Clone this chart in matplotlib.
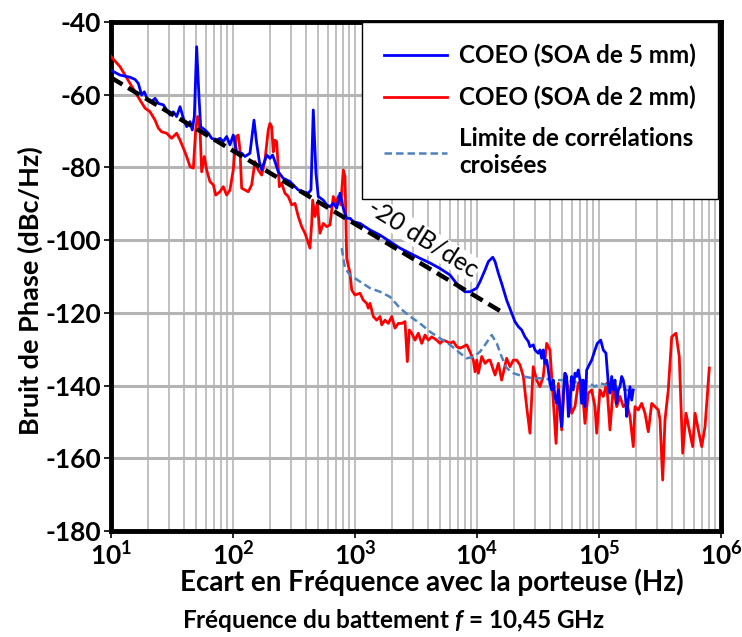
import matplotlib
matplotlib.use("Agg")
import matplotlib.pyplot as plt
import numpy as np

plt.rcParams['font.family'] = ['Lato', 'DejaVu Sans']
plt.rcParams['font.weight'] = 'bold'
plt.rcParams['mathtext.fontset'] = 'custom'
plt.rcParams['mathtext.rm'] = 'Lato:bold'
plt.rcParams['mathtext.it'] = 'Lato:bold:italic'
plt.rcParams['mathtext.bf'] = 'Lato:bold'

# log10 of the offset frequency (Hz) and phase noise (dBc/Hz)
soa5_logf = [1.00, 1.074, 1.115, 1.156, 1.197, 1.224, 1.251, 1.273, 1.301, 1.333, 1.361, 1.388,
             1.429, 1.456, 1.484, 1.511, 1.538, 1.566, 1.593, 1.620, 1.648, 1.666, 1.683, 1.702,
             1.721, 1.735, 1.770, 1.798, 1.825, 1.866, 1.893, 1.920, 1.948, 1.975, 2.002, 2.030,
             2.071, 2.098, 2.139, 2.172, 2.194, 2.216, 2.235, 2.249, 2.276, 2.303, 2.325, 2.344,
             2.371, 2.412, 2.467, 2.508, 2.535, 2.576, 2.617, 2.639, 2.658, 2.680, 2.699, 2.740,
             2.768, 2.795, 2.822, 2.850, 2.877, 2.904, 2.932, 2.959, 2.986, 3.041, 3.123, 3.205,
             3.287, 3.369, 3.451, 3.533, 3.615, 3.697, 3.779, 3.861, 3.902, 3.943, 3.998, 4.025,
             4.066, 4.093, 4.129, 4.148, 4.175, 4.202, 4.243, 4.284, 4.311, 4.339, 4.366, 4.393,
             4.421, 4.434, 4.461, 4.475, 4.502, 4.516, 4.530, 4.543, 4.557, 4.571, 4.584, 4.598,
             4.612, 4.625, 4.639, 4.653, 4.667, 4.680, 4.694, 4.708, 4.721, 4.735, 4.749, 4.762,
             4.776, 4.789, 4.803, 4.817, 4.830, 4.844, 4.858, 4.871, 4.885, 4.899, 4.912, 4.926,
             4.940, 4.967, 4.986, 5.014, 5.035, 5.057, 5.076, 5.090, 5.104, 5.117, 5.131, 5.145,
             5.158, 5.172, 5.186, 5.199, 5.213, 5.227, 5.240, 5.254, 5.268, 5.281]
soa5_db = [-53.3, -54.6, -54.9, -55.2, -55.8, -56.9, -60.1, -59.2, -61.5, -61.9, -61.0, -62.4,
           -62.8, -64.2, -65.6, -64.7, -66.0, -63.3, -66.5, -68.8, -67.4, -69.7, -66.0, -46.8,
           -60.5, -68.8, -69.7, -70.6, -72.0, -72.5, -72.0, -72.9, -71.5, -73.8, -71.1, -75.7,
           -76.1, -77.0, -76.1, -67.0, -73.4, -78.4, -80.7, -79.3, -76.6, -77.5, -76.6, -78.4,
           -81.2, -83.0, -83.9, -85.3, -86.2, -86.7, -87.1, -86.2, -64.2, -81.6, -88.0, -89.0,
           -90.3, -90.8, -89.9, -91.2, -87.1, -91.2, -94.0, -94.0, -94.9, -95.4, -97.2, -98.6,
           -100.4, -102.2, -103.6, -105.0, -106.3, -107.8, -109.6, -113.2, -114.2, -114.2, -113.2, -111.4,
           -108.2, -105.9, -104.7, -105.9, -109.1, -111.9, -116.5, -120.1, -122.4, -123.8, -124.7, -126.6,
           -127.9, -129.3, -128.8, -130.2, -131.1, -130.2, -132.5, -130.2, -133.9, -133.0, -135.7, -139.4,
           -141.2, -138.5, -143.0, -144.9, -141.2, -146.7, -151.3, -142.1, -136.6, -137.5, -148.5, -144.9,
           -137.5, -141.2, -136.6, -137.5, -135.7, -138.5, -144.9, -138.5, -145.8, -135.7, -134.8, -133.9,
           -133.0, -130.2, -128.4, -127.5, -130.2, -131.1, -139.4, -142.1, -137.5, -141.2, -138.5, -144.9,
           -141.2, -140.3, -137.5, -138.5, -141.2, -148.5, -144.0, -140.3, -144.0, -141.2]

soa2_logf = [1.00, 1.074, 1.115, 1.156, 1.197, 1.238, 1.279, 1.320, 1.361, 1.388, 1.415, 1.456,
             1.497, 1.538, 1.566, 1.593, 1.620, 1.648, 1.675, 1.694, 1.710, 1.730, 1.743, 1.765,
             1.784, 1.811, 1.839, 1.858, 1.893, 1.920, 1.948, 1.975, 2.002, 2.025, 2.043, 2.057,
             2.071, 2.098, 2.125, 2.153, 2.180, 2.207, 2.235, 2.262, 2.289, 2.303, 2.317, 2.330,
             2.344, 2.358, 2.380, 2.399, 2.426, 2.453, 2.481, 2.508, 2.535, 2.563, 2.590, 2.631,
             2.645, 2.653, 2.672, 2.691, 2.713, 2.740, 2.768, 2.795, 2.822, 2.844, 2.863, 2.883,
             2.904, 2.918, 2.932, 2.959, 2.973, 3.000, 3.041, 3.068, 3.096, 3.109, 3.123, 3.150,
             3.178, 3.205, 3.219, 3.246, 3.273, 3.301, 3.328, 3.355, 3.383, 3.410, 3.429, 3.445,
             3.465, 3.492, 3.519, 3.547, 3.574, 3.601, 3.629, 3.670, 3.697, 3.724, 3.752, 3.779,
             3.806, 3.834, 3.861, 3.888, 3.916, 3.943, 3.970, 3.984, 3.998, 4.011, 4.039, 4.066,
             4.093, 4.107, 4.148, 4.175, 4.202, 4.243, 4.270, 4.298, 4.325, 4.352, 4.380, 4.407,
             4.434, 4.461, 4.489, 4.516, 4.543, 4.571, 4.598, 4.625, 4.648, 4.667, 4.694, 4.721,
             4.749, 4.776, 4.803, 4.830, 4.858, 4.885, 4.912, 4.940, 4.967, 4.981, 5.008, 5.035,
             5.063, 5.090, 5.117, 5.145, 5.172, 5.199, 5.227, 5.254, 5.281, 5.295, 5.322, 5.350,
             5.377, 5.404, 5.432, 5.459, 5.486, 5.500, 5.522, 5.541, 5.568, 5.596, 5.631, 5.658,
             5.686, 5.713, 5.740, 5.768, 5.787, 5.814, 5.842, 5.869, 5.904]
soa2_db = [-49.5, -52.3, -54.6, -56.9, -59.2, -61.5, -63.7, -64.7, -67.0, -69.2, -70.2, -70.6,
           -72.0, -70.6, -72.5, -74.7, -77.0, -79.8, -80.2, -69.7, -66.0, -69.7, -81.2, -77.0,
           -80.7, -83.9, -84.8, -87.6, -86.7, -85.3, -87.6, -86.2, -80.7, -71.5, -71.1, -75.2,
           -85.7, -86.2, -86.7, -84.8, -78.4, -80.7, -82.1, -78.0, -69.7, -67.9, -68.8, -75.7,
           -72.5, -72.9, -85.3, -84.4, -87.1, -88.0, -90.3, -89.9, -93.5, -96.3, -98.1, -102.2,
           -95.4, -89.0, -93.5, -89.9, -98.1, -95.4, -96.3, -95.8, -88.0, -89.9, -88.0, -90.3,
           -80.7, -82.5, -105.0, -109.1, -113.7, -115.1, -114.6, -116.5, -117.4, -118.7, -117.4, -121.0,
           -122.0, -121.0, -123.3, -122.0, -122.9, -121.0, -124.2, -122.9, -122.9, -122.4, -133.4, -124.7,
           -125.6, -127.5, -125.6, -128.4, -126.1, -127.5, -126.6, -127.5, -128.4, -127.5, -127.9, -128.4,
           -127.9, -129.3, -129.7, -129.3, -128.8, -130.7, -133.0, -136.2, -133.0, -136.6, -132.0, -133.9,
           -133.0, -133.0, -137.1, -133.9, -138.5, -132.5, -134.8, -133.0, -133.0, -134.3, -137.5, -145.8,
           -153.1, -134.8, -138.5, -140.3, -137.5, -128.4, -130.2, -144.0, -155.9, -139.4, -152.2, -136.6,
           -141.2, -147.6, -145.8, -139.4, -138.5, -150.4, -142.1, -141.2, -145.8, -153.1, -141.2, -143.0,
           -139.4, -152.2, -140.3, -145.8, -143.0, -145.8, -144.9, -148.5, -156.8, -145.8, -146.7, -144.9,
           -147.6, -152.7, -144.9, -145.8, -146.7, -149.4, -166.0, -149.4, -141.2, -126.6, -125.6, -132.1,
           -158.6, -147.6, -152.2, -156.8, -147.6, -152.2, -156.8, -151.3, -135.2]

limit_logf = [2.891, 2.918, 2.959, 3.041, 3.123, 3.205, 3.287, 3.369, 3.451, 3.533, 3.615, 3.697,
              3.779, 3.861, 3.916, 3.970, 4.025, 4.066, 4.121, 4.162, 4.202, 4.243, 4.298, 4.380,
              4.461, 4.543, 4.625, 4.708, 4.789, 4.844, 4.899, 4.967, 5.008, 5.063, 5.117, 5.172,
              5.227, 5.268]
limit_db = [-102.2, -107.7, -109.6, -111.4, -113.2, -114.2, -115.6, -118.7, -121.0, -122.9, -125.2, -127.0,
            -128.8, -131.1, -132.5, -132.1, -130.7, -128.8, -126.1, -128.4, -132.1, -135.2, -136.6, -137.5,
            -138.0, -138.0, -138.5, -138.5, -138.9, -139.4, -138.9, -140.3, -139.4, -139.8, -140.3, -140.8,
            -141.2, -141.6]

# -20 dB/dec guide line (end points)
slope_f = [10, 15500]
slope_db = [-55.3, -119.5]

xticks = [1e1, 1e2, 1e3, 1e4, 1e5, 1e6]
xtick_labels = [r'$10^{1}$', r'$10^{2}$', r'$10^{3}$', r'$10^{4}$', r'$10^{5}$', r'$10^{6}$']
yticks = [-180, -160, -140, -120, -100, -80, -60, -40]

fig = plt.figure(figsize=(7.42, 6.37), dpi=100)
ax = fig.add_axes([0.1496, 0.1664, 0.8221, 0.7991])

ax.plot(10 ** np.array(soa5_logf), soa5_db, color='#0000FF', lw=2.0, label='COEO (SOA de 5 mm)', zorder=4)
ax.plot(10 ** np.array(soa2_logf), soa2_db, color='#FF0000', lw=2.0, label='COEO (SOA de 2 mm)', zorder=3)
ax.plot(10 ** np.array(limit_logf), limit_db, color='#4F81BD', lw=1.8, ls=(0, (3, 1.6)),
        label='Limite de corrélations\ncroisées', zorder=3)
ax.plot(slope_f, slope_db, color='black', lw=3.2, ls=(0, (3, 1.5)), zorder=5)

# label sits under the curves, on a white patch that hides the grid
ax.text(3.65e3, -99.6, '-20 dB/dec', rotation=-32, rotation_mode='anchor', ha='center', va='center',
        fontsize=18, fontweight='normal', color='black', zorder=2.5,
        bbox=dict(facecolor='white', edgecolor='none', pad=0.5))

ax.set_xscale('log')
ax.set_xlim(10, 1e6)
ax.set_ylim(-180, -40)
ax.set_xticks(xticks)
ax.set_xticklabels(xtick_labels)
ax.set_yticks(yticks)
ax.set_yticklabels([str(v) for v in yticks])
ax.xaxis.set_minor_formatter(plt.NullFormatter())
ax.tick_params(axis='both', which='major', labelsize=19, length=5, width=1.2, direction='out', pad=2)
ax.tick_params(axis='x', which='minor', length=0)

ax.grid(True, which='major', axis='y', color='#b4b4b4', lw=2.2)
ax.grid(True, which='both', axis='x', color='#c0c0c0', lw=1.4)
ax.set_axisbelow(True)
for s in ax.spines.values():
    s.set_linewidth(3.5)

ax.set_xlabel('Ecart en Fréquence avec la porteuse (Hz)', fontsize=20, fontweight='bold')
ax.xaxis.set_label_coords(0.526, -0.074)
ax.set_ylabel('Bruit de Phase (dBc/Hz)', fontsize=19.5, fontweight='bold')
ax.yaxis.set_label_coords(-0.112, 0.473)

fig.text(0.245, 0.026, r'Fréquence du battement $f$ = 10,45 GHz', fontsize=17.5, fontweight='bold',
         ha='left', va='center')

leg = ax.legend(loc='upper right', bbox_to_anchor=(0.995, 1.0), borderaxespad=0, fontsize=17.5,
                fancybox=False, edgecolor='black', framealpha=1, handlelength=2.6,
                handletextpad=0.5, labelspacing=0.75, borderpad=0.9)
leg.get_frame().set_linewidth(1.0)

fig.savefig('out.png', dpi=100)
